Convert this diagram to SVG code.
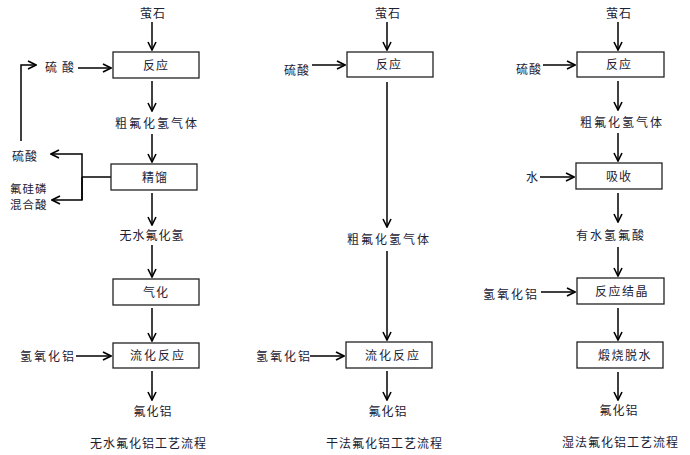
<svg xmlns="http://www.w3.org/2000/svg" width="690" height="455" viewBox="0 0 690 455">
<defs>
<marker id="ah" viewBox="0 0 10 10" refX="9" refY="5" markerWidth="10" markerHeight="10" markerUnits="userSpaceOnUse" orient="auto">
<path d="M1,1 L9,5 L1,9" fill="none" stroke="#000" stroke-width="1.6"/>
</marker>
</defs>
<style>
text{font-family:"Noto Sans CJK SC","Noto Sans CJK JP",sans-serif;font-size:12px;fill:#1c2233;letter-spacing:1px}
.m{text-anchor:middle}
rect{fill:#fff;stroke:#222;stroke-width:1.3}
.c line,.c polyline{stroke:#000;stroke-width:1.5;fill:none}
.a{marker-end:url(#ah)}
</style>
<rect x="0" y="0" width="690" height="455" style="fill:#fff;stroke:none"/>
<g class="c" id="connectors">
<line class="a" x1="152" y1="22" x2="152" y2="50"/>
<line class="a" x1="78" y1="68" x2="111" y2="68"/>
<line class="a" x1="152" y1="81" x2="152" y2="111"/>
<line class="a" x1="152" y1="134" x2="152" y2="162"/>
<polyline points="111,177 82,177"/>
<polyline class="a" points="82,200 82,154 51,154"/>
<polyline class="a" points="82,177 82,200 52,200"/>
<polyline class="a" points="21,141 21,65 36,65"/>
<line class="a" x1="152" y1="193" x2="152" y2="225"/>
<line class="a" x1="152" y1="245" x2="152" y2="277"/>
<line class="a" x1="152" y1="308" x2="152" y2="341"/>
<line class="a" x1="76" y1="356" x2="111" y2="356"/>
<line class="a" x1="152" y1="371" x2="152" y2="400"/>

<line class="a" x1="387" y1="22" x2="387" y2="50"/>
<line class="a" x1="312" y1="65" x2="345" y2="65"/>
<line class="a" x1="387" y1="82" x2="387" y2="227"/>
<line class="a" x1="387" y1="251" x2="387" y2="340"/>
<line class="a" x1="310" y1="356" x2="344" y2="356"/>
<line class="a" x1="387" y1="371" x2="387" y2="400"/>

<line class="a" x1="618" y1="22" x2="618" y2="50"/>
<line class="a" x1="543" y1="65" x2="575" y2="65"/>
<line class="a" x1="618" y1="81" x2="618" y2="110"/>
<line class="a" x1="618" y1="133" x2="618" y2="161"/>
<line class="a" x1="540" y1="177" x2="574" y2="177"/>
<line class="a" x1="618" y1="193" x2="618" y2="222"/>
<line class="a" x1="618" y1="247" x2="618" y2="276"/>
<line class="a" x1="541" y1="292" x2="575" y2="292"/>
<line class="a" x1="618" y1="308" x2="618" y2="340"/>
<line class="a" x1="618" y1="372" x2="618" y2="400"/>
</g>

<g id="n_l_fluorite"><text class="m" x="153" y="18">萤石</text></g>
<g id="n_l_h2so4"><text x="45" y="72" style="letter-spacing:5px">硫酸</text></g>
<g id="n_l_react"><rect x="113" y="52" width="86" height="26"/><text class="m" x="156" y="70">反应</text></g>
<g id="n_l_crude"><text class="m" x="157" y="128" style="letter-spacing:2px">粗氟化氢气体</text></g>
<g id="n_l_distill"><rect x="111" y="164" width="86" height="26"/><text class="m" x="155" y="182">精馏</text></g>
<g id="n_l_h2so4b"><text x="12" y="161">硫酸</text></g>
<g id="n_l_mixacid"><text x="10" y="193" style="font-size:11.5px">氟硅磷</text><text x="10" y="209" style="font-size:11.5px">混合酸</text></g>
<g id="n_l_ahf"><text class="m" x="152" y="240">无水氟化氢</text></g>
<g id="n_l_gasify"><rect x="113" y="279" width="86" height="26"/><text class="m" x="156" y="297">气化</text></g>
<g id="n_l_aloh"><text x="20" y="361" style="letter-spacing:2px">氢氧化铝</text></g>
<g id="n_l_fluid"><rect x="113" y="343" width="86" height="25"/><text class="m" x="158" y="360" style="letter-spacing:2px">流化反应</text></g>
<g id="n_l_alf3"><text class="m" x="153" y="416">氟化铝</text></g>
<g id="n_l_title"><text x="90" y="448">无水氟化铝工艺流程</text></g>

<g id="n_m_fluorite"><text class="m" x="388" y="18">萤石</text></g>
<g id="n_m_h2so4"><text x="284" y="75">硫酸</text></g>
<g id="n_m_react"><rect x="347" y="52" width="86" height="25"/><text class="m" x="389" y="69">反应</text></g>
<g id="n_m_crude"><text class="m" x="389" y="244" style="letter-spacing:2px">粗氟化氢气体</text></g>
<g id="n_m_aloh"><text x="256" y="361" style="letter-spacing:2px">氢氧化铝</text></g>
<g id="n_m_fluid"><rect x="346" y="342" width="86" height="26"/><text class="m" x="393" y="360" style="letter-spacing:2px">流化反应</text></g>
<g id="n_m_alf3"><text class="m" x="388" y="416">氟化铝</text></g>
<g id="n_m_title"><text x="326" y="448">干法氟化铝工艺流程</text></g>

<g id="n_r_fluorite"><text class="m" x="619" y="18">萤石</text></g>
<g id="n_r_h2so4"><text x="516" y="74">硫酸</text></g>
<g id="n_r_react"><rect x="577" y="52" width="87" height="25"/><text class="m" x="619" y="69">反应</text></g>
<g id="n_r_crude"><text class="m" x="622" y="127" style="letter-spacing:2px">粗氟化氢气体</text></g>
<g id="n_r_absorb"><rect x="576" y="163" width="86" height="26"/><text class="m" x="619" y="181">吸收</text></g>
<g id="n_r_water"><text x="526" y="182">水</text></g>
<g id="n_r_hf"><text class="m" x="611" y="240" style="letter-spacing:2px">有水氢氟酸</text></g>
<g id="n_r_aloh"><text x="483" y="299" style="letter-spacing:2px">氢氧化铝</text></g>
<g id="n_r_cryst"><rect x="577" y="278" width="87" height="26"/><text class="m" x="622" y="296" style="letter-spacing:1.5px">反应结晶</text></g>
<g id="n_r_calc"><rect x="577" y="342" width="86" height="26"/><text class="m" x="625" y="360" style="letter-spacing:1.5px">煅烧脱水</text></g>
<g id="n_r_alf3"><text class="m" x="619" y="415">氟化铝</text></g>
<g id="n_r_title"><text x="562" y="447">湿法氟化铝工艺流程</text></g>
</svg>
